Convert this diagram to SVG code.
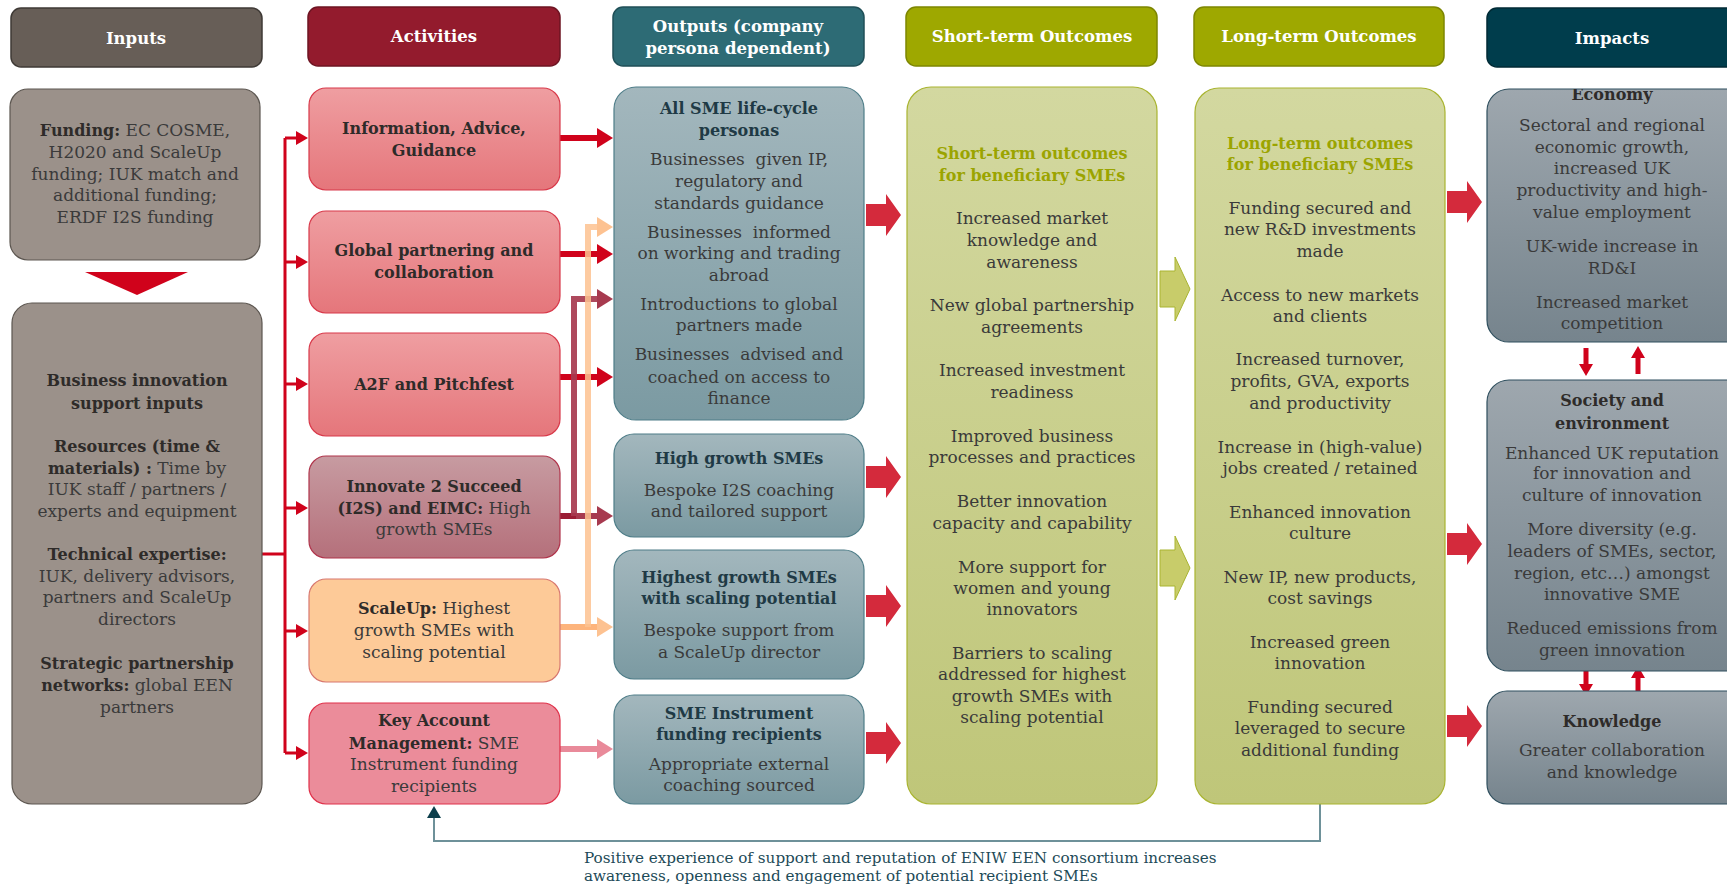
<svg xmlns="http://www.w3.org/2000/svg" width="1727" height="884" viewBox="0 0 1727 884">
  <defs>
    <style>
      text { font-family: "DejaVu Serif", "Liberation Serif", serif; font-size: 17px; fill: #3a3a3a; text-anchor: middle; }
      .b { font-weight: bold; fill: #2e2b29; font-size: 16px; }
      .hd { font-weight: bold; fill: #ffffff; font-size: 16.5px; }
      .ol { font-weight: bold; fill: #9ba400; font-size: 16px; }
      .tb { font-weight: bold; fill: #1f3a45; font-size: 16px; }
      .fb { font-size: 15.2px; fill: #1d4a57; text-anchor: start; }
      .hdr { stroke-width: 1.5; }
    </style>
    <linearGradient id="gPink" x1="0" y1="0" x2="0" y2="1">
      <stop offset="0" stop-color="#ef9ea1"/>
      <stop offset="1" stop-color="#e5767b"/>
    </linearGradient>
    <linearGradient id="gRose" x1="0" y1="0" x2="0" y2="1">
      <stop offset="0" stop-color="#c79ba1"/>
      <stop offset="1" stop-color="#b5707b"/>
    </linearGradient>
    <linearGradient id="gTeal" x1="0" y1="0" x2="0" y2="1">
      <stop offset="0" stop-color="#a3b7bd"/>
      <stop offset="1" stop-color="#7b9aa2"/>
    </linearGradient>
    <linearGradient id="gOlive" x1="0" y1="0" x2="0" y2="1">
      <stop offset="0" stop-color="#d3d8a0"/>
      <stop offset="1" stop-color="#bfc679"/>
    </linearGradient>
    <linearGradient id="gSlate" x1="0" y1="0" x2="0" y2="1">
      <stop offset="0" stop-color="#9ea7ae"/>
      <stop offset="1" stop-color="#76848d"/>
    </linearGradient>
    <clipPath id="clipEco">
      <rect x="1487" y="89" width="270" height="253" rx="22"/>
    </clipPath>
    <marker id="mSmall" markerUnits="userSpaceOnUse" markerWidth="12" markerHeight="14" refX="0" refY="7" orient="auto">
      <path d="M0,0 L12,7 L0,14 Z" fill="#d0021b"/>
    </marker>
    <marker id="mRed" markerUnits="userSpaceOnUse" markerWidth="16" markerHeight="20" refX="0" refY="10" orient="auto">
      <path d="M0,0 L16,10 L0,20 Z" fill="#d0021b"/>
    </marker>
    <marker id="mRose" markerUnits="userSpaceOnUse" markerWidth="16" markerHeight="20" refX="0" refY="10" orient="auto">
      <path d="M0,0 L16,10 L0,20 Z" fill="#a73a4f"/>
    </marker>
    <marker id="mOrange" markerUnits="userSpaceOnUse" markerWidth="16" markerHeight="20" refX="0" refY="10" orient="auto">
      <path d="M0,0 L16,10 L0,20 Z" fill="#fdc291"/>
    </marker>
    <marker id="mPink" markerUnits="userSpaceOnUse" markerWidth="16" markerHeight="20" refX="0" refY="10" orient="auto">
      <path d="M0,0 L16,10 L0,20 Z" fill="#e98a9a"/>
    </marker>
    <marker id="mTeal" markerUnits="userSpaceOnUse" markerWidth="12" markerHeight="14" refX="0" refY="7" orient="auto">
      <path d="M0,0 L12,7 L0,14 Z" fill="#0c3f4c"/>
    </marker>
    <path id="blockRed" d="M0,-11 H20 V-21 L35,0 L20,21 V11 H0 Z" fill="#d42a3c"/>
    <path id="blockGreen" d="M0,-18 H15 V-32 L30,0 L15,32 V18 H0 Z" fill="#c8cc6a" stroke="#a9b431" stroke-width="1"/>
    <path id="upArrow" d="M-2.5,28 V12 H-7 L0,0 L7,12 H2.5 V28 Z" fill="#d0021b"/>
  </defs>

  <rect width="1727" height="884" fill="#ffffff"/>

  <!-- column headers -->
  <g id="header-inputs">
    <rect class="hdr" x="11" y="8" width="251" height="59" rx="10" fill="#675e57" stroke="#3f3a36"/>
    <text class="hd" x="136" y="44">Inputs</text>
  </g>
  <g id="header-activities">
    <rect class="hdr" x="308" y="7" width="252" height="59" rx="10" fill="#931b2d" stroke="#6e1422"/>
    <text class="hd" x="434" y="42">Activities</text>
  </g>
  <g id="header-outputs">
    <rect class="hdr" x="613" y="7" width="251" height="59" rx="10" fill="#2d6b75" stroke="#1f4f57"/>
    <text class="hd" x="738" y="32">Outputs (company</text>
    <text class="hd" x="738" y="54">persona dependent)</text>
  </g>
  <g id="header-short">
    <rect class="hdr" x="906" y="7" width="251" height="59" rx="10" fill="#9ea800" stroke="#7d8600"/>
    <text class="hd" x="1032" y="42">Short-term Outcomes</text>
  </g>
  <g id="header-long">
    <rect class="hdr" x="1194" y="7" width="250" height="59" rx="10" fill="#9ea800" stroke="#7d8600"/>
    <text class="hd" x="1319" y="42">Long-term Outcomes</text>
  </g>
  <g id="header-impacts">
    <rect class="hdr" x="1487" y="8" width="270" height="59" rx="10" fill="#003d4c" stroke="#002a35"/>
    <text class="hd" x="1612" y="44">Impacts</text>
  </g>

  <!-- connectors -->
  <g id="connectors" fill="none">
    <!-- funding feeds into the support inputs -->
    <polygon points="85,272 188,272 137,295" fill="#d0021b"/>

    <!-- bus from support inputs to every activity -->
    <g stroke="#d0021b" stroke-width="3">
      <path d="M262,554 H285 M285,138 V753"/>
      <path d="M285,138 H296" marker-end="url(#mSmall)"/>
      <path d="M285,262 H296" marker-end="url(#mSmall)"/>
      <path d="M285,384 H296" marker-end="url(#mSmall)"/>
      <path d="M285,508 H296" marker-end="url(#mSmall)"/>
      <path d="M285,631 H296" marker-end="url(#mSmall)"/>
      <path d="M285,753 H296" marker-end="url(#mSmall)"/>
    </g>

    <!-- activities to outputs -->
    <g stroke-width="6">
      <path d="M560,138 H597" stroke="#d0021b" marker-end="url(#mRed)"/>
      <path d="M560,254 H597" stroke="#d0021b" marker-end="url(#mRed)"/>
      <path d="M560,377 H597" stroke="#d0021b" marker-end="url(#mRed)"/>
      <path d="M560,516 H597" stroke="#a73a4f" marker-end="url(#mRose)"/>
      <path d="M560,516 H576" stroke="#9b1d35"/>
      <path d="M574,516 V299 H597" stroke="#a73a4f" stroke-opacity="0.92" marker-end="url(#mRose)"/>
      <path d="M560,627 H597" stroke="#fdb47c" marker-end="url(#mOrange)"/>
      <path d="M588,627 V227 H597" stroke="#fdc291" stroke-opacity="0.85" marker-end="url(#mOrange)"/>
      <path d="M560,749 H597" stroke="#e98a9a" marker-end="url(#mPink)"/>
    </g>

    <!-- outputs to short-term outcomes -->
    <use href="#blockRed" x="866" y="215"/>
    <use href="#blockRed" x="866" y="477"/>
    <use href="#blockRed" x="866" y="606"/>
    <use href="#blockRed" x="866" y="743"/>

    <!-- short-term to long-term outcomes -->
    <use href="#blockGreen" x="1160" y="289"/>
    <use href="#blockGreen" x="1160" y="568"/>

    <!-- long-term outcomes to impacts -->
    <use href="#blockRed" x="1447" y="202"/>
    <use href="#blockRed" x="1447" y="544"/>
    <use href="#blockRed" x="1447" y="726"/>

    <!-- links between impact areas -->
    <use href="#upArrow" transform="translate(1586,376) scale(1,-1)"/>
    <use href="#upArrow" transform="translate(1638,346)"/>
    <use href="#upArrow" transform="translate(1586,696) scale(1,-1)"/>
    <use href="#upArrow" transform="translate(1638,666)"/>

    <!-- feedback loop -->
    <path d="M1320,804 V841 H434 V818" stroke="#6e9199" stroke-width="2" marker-end="url(#mTeal)"/>
  </g>

  <!-- inputs -->
  <g id="node-funding">
    <rect x="10" y="89" width="250" height="171" rx="18" fill="#9b918a" stroke="#5c5650" stroke-width="1.2"/>
    <text x="135" y="136"><tspan class="b">Funding:</tspan> EC COSME,</text>
    <text x="135" y="158">H2020 and ScaleUp</text>
    <text x="135" y="180">funding; IUK match and</text>
    <text x="135" y="201">additional funding;</text>
    <text x="135" y="223">ERDF I2S funding</text>
  </g>
  <g id="node-support-inputs">
    <rect x="12" y="303" width="250" height="501" rx="20" fill="#9b918a" stroke="#5c5650" stroke-width="1.2"/>
    <text class="b" x="137" y="386">Business innovation</text>
    <text class="b" x="137" y="409">support inputs</text>
    <text class="b" x="137" y="452">Resources (time &amp;</text>
    <text x="137" y="474"><tspan class="b">materials) :</tspan> Time by</text>
    <text x="137" y="495">IUK staff / partners /</text>
    <text x="137" y="517">experts and equipment</text>
    <text class="b" x="137" y="560">Technical expertise:</text>
    <text x="137" y="582">IUK, delivery advisors,</text>
    <text x="137" y="603">partners and ScaleUp</text>
    <text x="137" y="625">directors</text>
    <text class="b" x="137" y="669">Strategic partnership</text>
    <text x="137" y="691"><tspan class="b">networks:</tspan> global EEN</text>
    <text x="137" y="713">partners</text>
  </g>

  <!-- activities -->
  <g id="node-info-advice">
    <rect x="309" y="88" width="251" height="102" rx="17" fill="url(#gPink)" stroke="#d8394a" stroke-width="1.2"/>
    <text class="b" x="434" y="134">Information, Advice,</text>
    <text class="b" x="434" y="156">Guidance</text>
  </g>
  <g id="node-global-partnering">
    <rect x="309" y="211" width="251" height="102" rx="17" fill="url(#gPink)" stroke="#d8394a" stroke-width="1.2"/>
    <text class="b" x="434" y="256">Global partnering and</text>
    <text class="b" x="434" y="278">collaboration</text>
  </g>
  <g id="node-a2f">
    <rect x="309" y="333" width="251" height="103" rx="17" fill="url(#gPink)" stroke="#d8394a" stroke-width="1.2"/>
    <text class="b" x="434" y="390">A2F and Pitchfest</text>
  </g>
  <g id="node-i2s">
    <rect x="309" y="456" width="251" height="102" rx="17" fill="url(#gRose)" stroke="#b0344b" stroke-width="1.2"/>
    <text class="b" x="434" y="492">Innovate 2 Succeed</text>
    <text x="434" y="514"><tspan class="b">(I2S) and EIMC:</tspan> High</text>
    <text x="434" y="535">growth SMEs</text>
  </g>
  <g id="node-scaleup">
    <rect x="309" y="579" width="251" height="103" rx="17" fill="#fdca98" stroke="#d7776f" stroke-width="1.2"/>
    <text x="434" y="614"><tspan class="b">ScaleUp:</tspan> Highest</text>
    <text x="434" y="636">growth SMEs with</text>
    <text x="434" y="658">scaling potential</text>
  </g>
  <g id="node-key-account">
    <rect x="309" y="703" width="251" height="101" rx="17" fill="#eb8c9a" stroke="#e0314a" stroke-width="1.2"/>
    <text class="b" x="434" y="726">Key Account</text>
    <text x="434" y="749"><tspan class="b">Management:</tspan> SME</text>
    <text x="434" y="770">Instrument funding</text>
    <text x="434" y="792">recipients</text>
  </g>

  <!-- outputs -->
  <g id="node-all-sme">
    <rect x="614" y="87" width="250" height="333" rx="22" fill="url(#gTeal)" stroke="#4e7d88" stroke-width="1.2"/>
    <text class="tb" x="739" y="114">All SME life-cycle</text>
    <text class="tb" x="739" y="136">personas</text>
    <text x="739" y="165">Businesses&#160; given IP,</text>
    <text x="739" y="187">regulatory and</text>
    <text x="739" y="209">standards guidance</text>
    <text x="739" y="238">Businesses&#160; informed</text>
    <text x="739" y="259">on working and trading</text>
    <text x="739" y="281">abroad</text>
    <text x="739" y="310">Introductions to global</text>
    <text x="739" y="331">partners made</text>
    <text x="739" y="360">Businesses&#160; advised and</text>
    <text x="739" y="383">coached on access to</text>
    <text x="739" y="404">finance</text>
  </g>
  <g id="node-high-growth">
    <rect x="614" y="434" width="250" height="103" rx="20" fill="url(#gTeal)" stroke="#4e7d88" stroke-width="1.2"/>
    <text class="tb" x="739" y="464">High growth SMEs</text>
    <text x="739" y="496">Bespoke I2S coaching</text>
    <text x="739" y="517">and tailored support</text>
  </g>
  <g id="node-highest-growth">
    <rect x="614" y="550" width="250" height="129" rx="20" fill="url(#gTeal)" stroke="#4e7d88" stroke-width="1.2"/>
    <text class="tb" x="739" y="583">Highest growth SMEs</text>
    <text class="tb" x="739" y="604">with scaling potential</text>
    <text x="739" y="636">Bespoke support from</text>
    <text x="739" y="658">a ScaleUp director</text>
  </g>
  <g id="node-sme-instrument">
    <rect x="614" y="695" width="250" height="109" rx="20" fill="url(#gTeal)" stroke="#4e7d88" stroke-width="1.2"/>
    <text class="tb" x="739" y="719">SME Instrument</text>
    <text class="tb" x="739" y="740">funding recipients</text>
    <text x="739" y="770">Appropriate external</text>
    <text x="739" y="791">coaching sourced</text>
  </g>

  <!-- short-term outcomes -->
  <g id="node-short-term">
    <rect x="907" y="87" width="250" height="717" rx="24" fill="url(#gOlive)" stroke="#a9b431" stroke-width="1.2"/>
    <text class="ol" x="1032" y="159">Short-term outcomes</text>
    <text class="ol" x="1032" y="181">for beneficiary SMEs</text>
    <text x="1032" y="224">Increased market</text>
    <text x="1032" y="246">knowledge and</text>
    <text x="1032" y="268">awareness</text>
    <text x="1032" y="311">New global partnership</text>
    <text x="1032" y="333">agreements</text>
    <text x="1032" y="376">Increased investment</text>
    <text x="1032" y="398">readiness</text>
    <text x="1032" y="442">Improved business</text>
    <text x="1032" y="463">processes and practices</text>
    <text x="1032" y="507">Better innovation</text>
    <text x="1032" y="529">capacity and capability</text>
    <text x="1032" y="573">More support for</text>
    <text x="1032" y="594">women and young</text>
    <text x="1032" y="615">innovators</text>
    <text x="1032" y="659">Barriers to scaling</text>
    <text x="1032" y="680">addressed for highest</text>
    <text x="1032" y="702">growth SMEs with</text>
    <text x="1032" y="723">scaling potential</text>
  </g>

  <!-- long-term outcomes -->
  <g id="node-long-term">
    <rect x="1195" y="88" width="250" height="716" rx="24" fill="url(#gOlive)" stroke="#a9b431" stroke-width="1.2"/>
    <text class="ol" x="1320" y="149">Long-term outcomes</text>
    <text class="ol" x="1320" y="170">for beneficiary SMEs</text>
    <text x="1320" y="214">Funding secured and</text>
    <text x="1320" y="235">new R&amp;D investments</text>
    <text x="1320" y="257">made</text>
    <text x="1320" y="301">Access to new markets</text>
    <text x="1320" y="322">and clients</text>
    <text x="1320" y="365">Increased turnover,</text>
    <text x="1320" y="387">profits, GVA, exports</text>
    <text x="1320" y="409">and productivity</text>
    <text x="1320" y="453">Increase in (high-value)</text>
    <text x="1320" y="474">jobs created / retained</text>
    <text x="1320" y="518">Enhanced innovation</text>
    <text x="1320" y="539">culture</text>
    <text x="1320" y="583">New IP, new products,</text>
    <text x="1320" y="604">cost savings</text>
    <text x="1320" y="648">Increased green</text>
    <text x="1320" y="669">innovation</text>
    <text x="1320" y="713">Funding secured</text>
    <text x="1320" y="734">leveraged to secure</text>
    <text x="1320" y="756">additional funding</text>
  </g>

  <!-- impacts -->
  <g id="node-economy">
    <rect x="1487" y="89" width="270" height="253" rx="22" fill="url(#gSlate)" stroke="#2f4f5e" stroke-width="1.2"/>
    <text class="b" x="1612" y="100" clip-path="url(#clipEco)">Economy</text>
    <text x="1612" y="131">Sectoral and regional</text>
    <text x="1612" y="153">economic growth,</text>
    <text x="1612" y="174">increased UK</text>
    <text x="1612" y="196">productivity and high-</text>
    <text x="1612" y="218">value employment</text>
    <text x="1612" y="252">UK-wide increase in</text>
    <text x="1612" y="274">RD&amp;I</text>
    <text x="1612" y="308">Increased market</text>
    <text x="1612" y="329">competition</text>
  </g>
  <g id="node-society">
    <rect x="1487" y="380" width="270" height="291" rx="22" fill="url(#gSlate)" stroke="#2f4f5e" stroke-width="1.2"/>
    <text class="b" x="1612" y="406">Society and</text>
    <text class="b" x="1612" y="429">environment</text>
    <text x="1612" y="459">Enhanced UK reputation</text>
    <text x="1612" y="479">for innovation and</text>
    <text x="1612" y="501">culture of innovation</text>
    <text x="1612" y="535">More diversity (e.g.</text>
    <text x="1612" y="557">leaders of SMEs, sector,</text>
    <text x="1612" y="579">region, etc…) amongst</text>
    <text x="1612" y="600">innovative SME</text>
    <text x="1612" y="634">Reduced emissions from</text>
    <text x="1612" y="656">green innovation</text>
  </g>
  <g id="node-knowledge">
    <rect x="1487" y="691" width="270" height="113" rx="20" fill="url(#gSlate)" stroke="#2f4f5e" stroke-width="1.2"/>
    <text class="b" x="1612" y="727">Knowledge</text>
    <text x="1612" y="756">Greater collaboration</text>
    <text x="1612" y="778">and knowledge</text>
  </g>

  <!-- feedback note -->
  <g id="feedback-note">
    <text class="fb" x="584" y="863">Positive experience of support and reputation of ENIW EEN consortium increases</text>
    <text class="fb" x="584" y="881">awareness, openness and engagement of potential recipient SMEs</text>
  </g>
</svg>
